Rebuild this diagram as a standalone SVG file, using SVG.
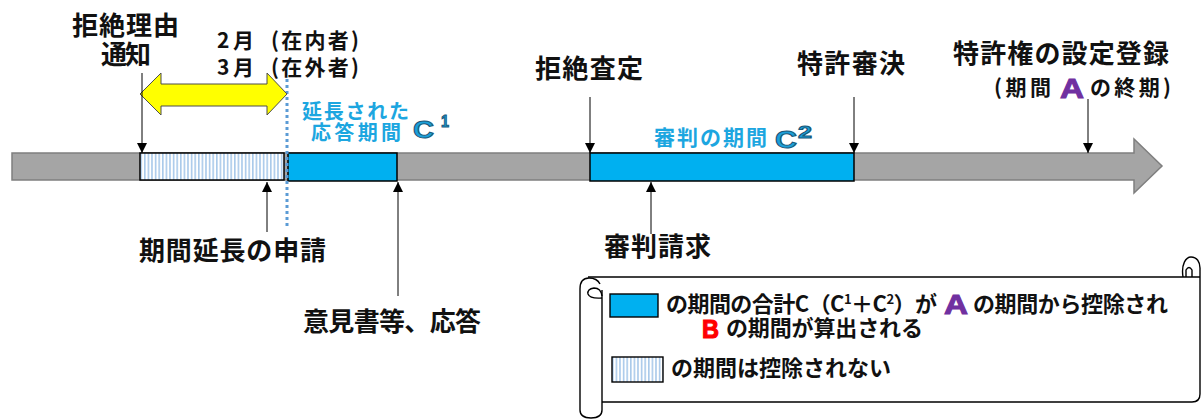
<svg xmlns="http://www.w3.org/2000/svg" width="1203" height="419" viewBox="0 0 1203 419">
<style>
.jp{font-family:"Noto Sans CJK JP","Noto Sans CJK SC",sans-serif;font-weight:700;fill:#111}
.lbl{font-size:26px}
.sm{font-size:21px}
.lg{font-size:22px}
.bl{fill:#1CA6E0}
.cc{font-family:"Liberation Sans",Arial,sans-serif;font-weight:700;fill:#1C9FD8;stroke:#17587A;stroke-width:1}
.ltr{font-family:"Liberation Sans",Arial,sans-serif;font-weight:700}
.conn{stroke:#000;stroke-width:1;fill:none}
.scroll{fill:none;stroke:#000;stroke-width:1.4}
</style>
<defs>
<pattern id="hatch" width="3.6" height="10" patternUnits="userSpaceOnUse">
<rect width="3.6" height="10" fill="#fff"/>
<rect x="0" width="1.6" height="10" fill="#A9C9EA"/>
</pattern>
<marker id="ah" viewBox="0 0 10 10" refX="10" refY="5" markerWidth="10" markerHeight="10" markerUnits="userSpaceOnUse" orient="auto">
<path d="M0,0 L10,5 L0,10 Z" fill="#000"/>
</marker>
</defs>

<g id="timeline">
<path d="M12,153 L1134,153 L1134,139 L1162,166 L1134,193 L1134,180 L12,180 Z" fill="#A5A5A5" stroke="#7F7F7F" stroke-width="1.5"/>
</g>
<g id="hatched-period">
<rect x="140" y="153" width="144" height="27" fill="url(#hatch)" stroke="#000" stroke-width="1.5"/>
</g>
<g id="c1-period">
<rect x="288" y="153" width="109" height="28" fill="#00B0F0" stroke="#000" stroke-width="1.5"/>
</g>
<g id="c2-period">
<rect x="590" y="153" width="264" height="28" fill="#00B0F0" stroke="#000" stroke-width="1.5"/>
</g>
<g id="extension-limit">
<line x1="287" y1="79" x2="287" y2="226" stroke="#5B9BD5" stroke-width="3" stroke-dasharray="3 3"/>
</g>
<g id="yellow-arrow">
<path d="M140,94 L161,73 L161,84 L267,84 L267,73 L287,94 L267,115 L267,106 L161,106 L161,115 Z" fill="#FFFF00" stroke="#4D4D4D" stroke-width="1"/>
</g>

<g id="connectors">
<line class="conn" x1="142" y1="73" x2="142" y2="153" marker-end="url(#ah)"/>
<line class="conn" x1="590" y1="97" x2="590" y2="153" marker-end="url(#ah)"/>
<line class="conn" x1="854" y1="97" x2="854" y2="153" marker-end="url(#ah)"/>
<line class="conn" x1="1088" y1="99" x2="1088" y2="153" marker-end="url(#ah)"/>
<line class="conn" x1="267" y1="232" x2="267" y2="182" marker-end="url(#ah)"/>
<line class="conn" x1="398" y1="296" x2="398" y2="182" marker-end="url(#ah)"/>
<line class="conn" x1="651" y1="234" x2="651" y2="182" marker-end="url(#ah)"/>
</g>

<g id="node-notice">
<text class="jp lbl" x="72" y="35" textLength="107">拒絶理由</text>
<text class="jp lbl" x="101" y="64" textLength="50">通知</text>
</g>
<g id="node-period-term">
<text class="jp sm" x="217" y="48" textLength="37">2月</text>
<text class="jp sm" x="271" y="48" textLength="88">(在内者)</text>
<text class="jp sm" x="217" y="75" textLength="37">3月</text>
<text class="jp sm" x="271" y="75" textLength="88">(在外者)</text>
</g>
<g id="node-extended">
<text class="jp bl" font-size="20" x="302" y="119" textLength="107">延長された</text>
<text class="jp bl" font-size="20" x="311" y="140" textLength="90">応答期間</text>
<text class="cc" font-size="23" x="413" y="138" textLength="21" lengthAdjust="spacingAndGlyphs">C</text>
<text class="cc" font-size="16" x="441" y="127" textLength="8" lengthAdjust="spacingAndGlyphs">1</text>
</g>
<g id="node-rejection">
<text class="jp lbl" x="535" y="78" textLength="108">拒絶査定</text>
</g>
<g id="node-decision">
<text class="jp lbl" x="797" y="73" textLength="108">特許審決</text>
</g>
<g id="node-registration">
<text class="jp lbl" x="953" y="63" textLength="216">特許権の設定登録</text>
<text class="jp sm" x="994" y="95" textLength="57">(期間</text>
<text class="ltr" font-size="28" x="1060" y="98" fill="#7030A0" stroke="#7030A0" stroke-width="1" textLength="24" lengthAdjust="spacingAndGlyphs">A</text>
<text class="jp sm" x="1090" y="95" textLength="81">の終期)</text>
</g>
<g id="node-trial-period">
<text class="jp bl" font-size="21" x="654" y="145" textLength="113">審判の期間</text>
<text class="cc" font-size="23" x="775" y="148" textLength="22" lengthAdjust="spacingAndGlyphs">C</text>
<text class="cc" font-size="17" x="798" y="138" textLength="14" lengthAdjust="spacingAndGlyphs">2</text>
</g>
<g id="node-ext-request">
<text class="jp lbl" x="139" y="260" textLength="187">期間延長の申請</text>
</g>
<g id="node-response">
<text class="jp lbl" x="303" y="331" textLength="178">意見書等、応答</text>
</g>
<g id="node-trial-request">
<text class="jp lbl" x="604" y="256" textLength="107">審判請求</text>
</g>

<g id="legend">
<path class="scroll" d="M588,277 L1200,277"/>
<path class="scroll" d="M1183,277 C1181,264 1186,257 1191,257 C1197,257 1200,262 1200,268 L1200,394 Q1200,402 1192,402 L602,402"/>
<path class="scroll" d="M1186,277 L1186,270 Q1189,265 1192,270 L1192,277" stroke-width="1.2"/>
<path class="scroll" d="M600,284 Q597,278 589,278 Q580,278 580,289 L580,410 Q580,418 591,418 Q602,418 602,410 L602,290"/>
<path class="scroll" d="M602,296 Q601,288 594,288 Q587,289 588,294 Q590,299 602,298" stroke-width="1.2"/>
<rect x="610" y="294" width="48" height="23" fill="#00B0F0" stroke="#000" stroke-width="1.4"/>
<text class="jp lg" x="666" y="312" textLength="271">の期間の合計C（C<tspan font-size="13" dy="-8">1</tspan><tspan dy="8">＋C</tspan><tspan font-size="13" dy="-8">2</tspan><tspan dy="8">）が</tspan></text>
<text class="ltr" font-size="27" x="944" y="314" fill="#7030A0" stroke="#7030A0" stroke-width="1" textLength="24" lengthAdjust="spacingAndGlyphs">A</text>
<text class="jp lg" x="973" y="312" textLength="195">の期間から控除され</text>
<text class="ltr" font-size="26" x="702" y="338" fill="#FF0000" stroke="#FF0000" stroke-width="1.2" textLength="17" lengthAdjust="spacingAndGlyphs">B</text>
<text class="jp lg" x="726" y="336" textLength="197">の期間が算出される</text>
<rect x="612" y="357" width="51" height="25" fill="url(#hatch)" stroke="#000" stroke-width="1.4"/>
<text class="jp lg" x="671" y="376" textLength="220">の期間は控除されない</text>
</g>
</svg>
